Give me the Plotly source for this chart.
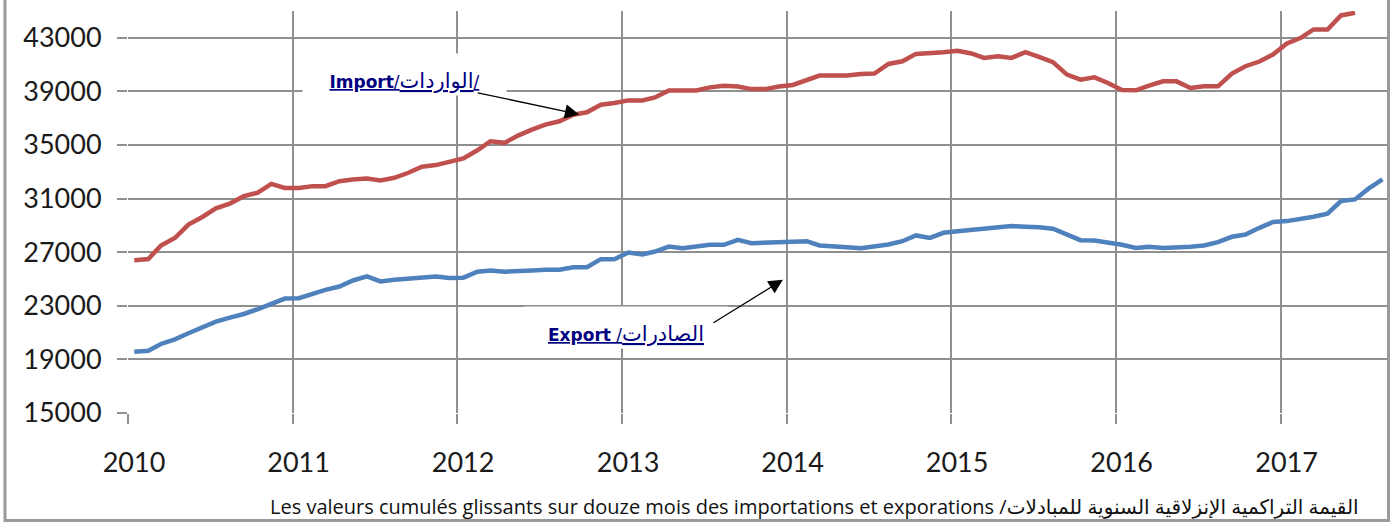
import pandas as pd
import plotly.graph_objects as go

# ---- data ----
months = pd.date_range("2010-01-01", periods=92, freq="MS") + pd.Timedelta(days=14)

import_vals = [
    26400, 26490, 27490, 28060, 29060, 29630, 30280, 30630, 31180, 31430, 32100, 31800,
    31800, 31930, 31930, 32300, 32430, 32500, 32350, 32550, 32930, 33380, 33500, 33750,
    34000, 34610, 35280, 35160, 35700, 36150, 36520, 36770, 37260, 37440, 38010, 38130,
    38330, 38330, 38550, 39070, 39070, 39070, 39300, 39420, 39370, 39170, 39170, 39370,
    39480, 39880, 40180, 40180, 40180, 40300, 40330, 41050, 41250, 41800, 41830, 41930,
    42030, 41830, 41500, 41630, 41500, 41930, 41580, 41180, 40250, 39880, 40050, 39630,
    39100, 39080, 39430, 39750, 39750, 39260, 39380, 39380, 40330, 40880, 41230, 41750,
    42580, 43000, 43620, 43620, 44670, 44870,
]
export_vals = [
    19570, 19650, 20150, 20500, 20950, 21400, 21820, 22120, 22390, 22740, 23140, 23540,
    23570, 23940, 24190, 24440, 24890, 25190, 24820, 24940, 25040, 25140, 25190, 25070,
    25100, 25540, 25640, 25540, 25560, 25640, 25690, 25690, 25880, 25880, 26480, 26480,
    26980, 26830, 27050, 27420, 27300, 27420, 27550, 27550, 27920, 27670, 27720, 27720,
    27740, 27820, 27500, 27400, 27370, 27300, 27400, 27570, 27820, 28250, 28070, 28450,
    28570, 28650, 28750, 28820, 28950, 28900, 28870, 28750, 28320, 27900, 27870, 27750,
    27550, 27320, 27400, 27320, 27320, 27400, 27500, 27750, 28150, 28320, 28820, 29250,
    29320, 29450, 29650, 29870, 30820, 30940, 31740, 32440,
]

year_ticks = ["2010-01-01", "2011-01-01", "2012-01-01", "2013-01-01",
              "2014-01-01", "2015-01-01", "2016-01-01", "2017-01-01"]
year_labels = ["2010", "2011", "2012", "2013", "2014", "2015", "2016", "2017"]
y_ticks = [15000, 19000, 23000, 27000, 31000, 35000, 39000, 43000]
y_labels = ["15000", "19000", "23000", "27000", "31000", "35000", "39000", "43000"]

import_label = "<u><b>Import</b>/<span style='font-size:21px'>الواردات</span>/</u>"
export_label = "<u><b>Export</b> /<span style='font-size:21px'>الصادرات</span></u>"
bottom_title = ("Les valeurs cumulés glissants sur douze mois des importations et exporations "
                "/القيمة التراكمية الإنزلاقية السنوية للمبادلات")

RED = "#C0504D"
BLUE = "#4F81BD"
GRID = "#8f8f8f"
NAVY = "#000080"
TICKFONT = "Lato, DejaVu Sans, sans-serif"

fig = go.Figure()
fig.add_trace(go.Scatter(x=months[:len(import_vals)], y=import_vals, mode="lines",
                         line=dict(color=RED, width=4.5), name="Import"))
fig.add_trace(go.Scatter(x=months[:len(export_vals)], y=export_vals, mode="lines",
                         line=dict(color=BLUE, width=4.5), name="Export"))

W, H = 1400, 522
L, R, T, B = 128, 13, 11, 109
pw, ph = W - L - R, H - T - B


def px(xp):
    return (xp - L) / pw


def py(yp):
    return (H - B - yp) / ph


fig.update_layout(
    width=W, height=H,
    margin=dict(l=L, r=R, t=T, b=B, pad=0),
    paper_bgcolor="white", plot_bgcolor="white",
    showlegend=False,
    font=dict(family=TICKFONT, color="#1a1a1a"),
)
fig.update_xaxes(
    type="date", range=["2010-01-01", "2017-08-25"],
    tickvals=year_ticks, ticktext=year_labels,
    showgrid=True, gridcolor=GRID, gridwidth=1.5,
    ticks="outside", ticklen=10, tickcolor=GRID, tickwidth=1.5,
    ticklabelshift=6, ticklabelstandoff=16,
    tickfont=dict(size=27, family=TICKFONT, color="#1a1a1a"),
    showline=False, zeroline=False,
)
fig.update_yaxes(
    range=[15000, 45000], tickvals=y_ticks, ticktext=y_labels,
    showgrid=True, gridcolor=GRID, gridwidth=1.5,
    ticks="outside", ticklen=10, tickcolor=GRID, tickwidth=1.5,
    ticklabelstandoff=10,
    tickfont=dict(size=27, family=TICKFONT, color="#1a1a1a"),
    showline=False, zeroline=False,
)

# outer frame
fig.add_shape(type="rect", xref="paper", yref="paper",
              x0=px(5), x1=px(1388.5), y0=py(520.5), y1=py(-10),
              line=dict(color="#9a9a9a", width=3), fillcolor="rgba(0,0,0,0)")

# text labels
fig.add_annotation(xref="paper", yref="paper", x=px(302), y=py(74.5),
                   xanchor="left", yanchor="middle", showarrow=False,
                   text=import_label, width=199, height=37, align="center", valign="bottom",
                   bgcolor="white", borderpad=2,
                   font=dict(family="DejaVu Sans, sans-serif", size=17, color=NAVY))
fig.add_annotation(xref="paper", yref="paper", x=px(524), y=py(327.5),
                   xanchor="left", yanchor="middle", showarrow=False,
                   text=export_label, width=198, height=37, align="center", valign="bottom",
                   bgcolor="white", borderpad=2,
                   font=dict(family="DejaVu Sans, sans-serif", size=17, color=NAVY))

# arrows
fig.add_annotation(x="2012-09-28", y=37280, xref="x", yref="y", text="",
                   showarrow=True, ax=-103, ay=-22, arrowhead=2, arrowsize=2.2,
                   arrowwidth=1.3, arrowcolor="black", standoff=0)
fig.add_annotation(x="2013-12-24", y=24944, xref="x", yref="y", text="",
                   showarrow=True, ax=-71, ay=44, arrowhead=2, arrowsize=2.2,
                   arrowwidth=1.3, arrowcolor="black", standoff=0)

# bottom title
fig.add_annotation(xref="paper", yref="paper", x=px(268), y=py(506),
                   xanchor="left", yanchor="middle", showarrow=False,
                   text=bottom_title,
                   font=dict(family="Open Sans, DejaVu Sans, sans-serif", size=20, color="#111"))

fig.write_html("out.html", config={"displayModeBar": False},
               post_script="document.body.style.margin='0';document.body.style.overflow='hidden';")
